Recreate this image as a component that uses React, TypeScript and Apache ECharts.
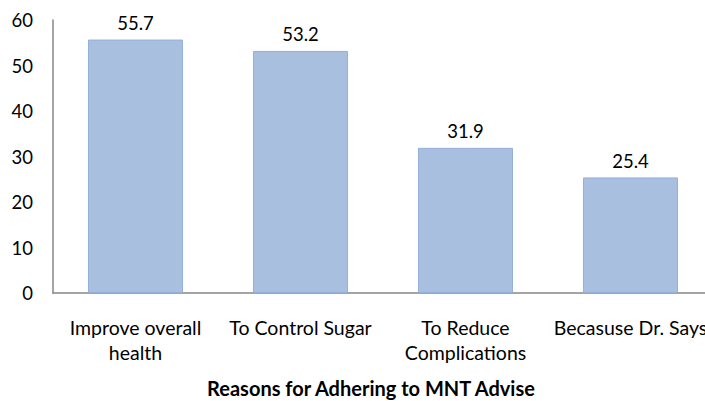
import React, { useEffect, useRef } from "react";
import * as echarts from "echarts";

const categories = ["Improve overall\nhealth", "To Control Sugar", "To Reduce\nComplications", "Becasuse Dr. Says"];
const values = [55.7, 53.2, 31.9, 25.4];
const axisTitle = "Reasons for Adhering to MNT Advise";

const FONT = "Lato";

export default function App() {
  const ref = useRef<HTMLDivElement>(null);
  useEffect(() => {
    if (!ref.current) return;
    const chart = echarts.init(ref.current, undefined, { renderer: "svg" });
    chart.setOption({
      animation: false,
      textStyle: { fontFamily: FONT },
      grid: { left: 53, top: 20, width: 660, height: 273, containLabel: false },
      xAxis: {
        type: "category",
        data: categories,
        axisLine: { lineStyle: { color: "#868686", width: 1.5 } },
        axisTick: { show: false },
        axisLabel: { color: "#000", fontSize: 19.5, fontFamily: FONT, margin: 22, lineHeight: 25, interval: 0 },
      },
      yAxis: {
        type: "value",
        min: 0,
        max: 60,
        interval: 10,
        splitLine: { show: false },
        axisLine: { show: true, lineStyle: { color: "#868686", width: 1.5 } },
        axisTick: { show: false },
        axisLabel: { color: "#000", fontSize: 18.5, fontFamily: FONT, margin: 20 },
      },
      series: [
        {
          type: "bar",
          data: values,
          barWidth: "57.6%",
          itemStyle: { color: "#A9BFE0", borderColor: "#94AFD8", borderWidth: 1 },
          label: { show: true, position: "top", distance: 7, color: "#000", fontSize: 18.5, fontFamily: FONT },
        },
      ],
      graphic: [
        {
          type: "text",
          x: 371,
          y: 388,
          style: { text: axisTitle, font: `bold 20px ${FONT}`, fill: "#000", textAlign: "center", textVerticalAlign: "middle" },
        },
      ],
    });
    return () => chart.dispose();
  }, []);
  return (
    <div style={{ position: "fixed", left: 0, top: 0, width: 705, height: 401, overflow: "hidden", background: "#fff" }}>
      <div ref={ref} style={{ width: 720, height: 401 }} />
    </div>
  );
}
